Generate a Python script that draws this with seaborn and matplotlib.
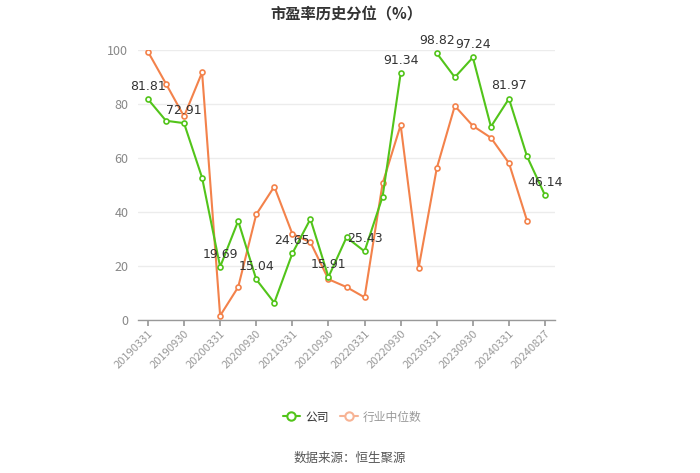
import numpy as np
import pandas as pd
import matplotlib
matplotlib.use("Agg")
import matplotlib.pyplot as plt
import seaborn as sns
from matplotlib.lines import Line2D

dates = ["20190331", "20190630", "20190930", "20191231", "20200331", "20200630",
         "20200930", "20201231", "20210331", "20210630", "20210930", "20211231",
         "20220331", "20220630", "20220930", "20221231", "20230331", "20230630",
         "20230930", "20231231", "20240331", "20240630", "20240827"]
company = [81.81, 73.8, 72.91, 52.7, 19.69, 36.7, 15.04, 6.4, 24.65, 37.4, 15.91, 30.6,
           25.43, 45.7, 91.34, np.nan, 98.82, 89.9, 97.24, 71.6, 81.97, 60.6, 46.14]
industry = [99.4, 87.5, 75.4, 91.7, 1.6, 12.2, 39.1, 49.4, 31.9, 28.8, 15.1, 12.2,
            8.4, 50.6, 72.2, 19.4, 56.2, 79.3, 71.9, 67.5, 58.1, 36.8, np.nan]
labeled = ["20190331", "20190930", "20200331", "20200930", "20210331", "20210930",
           "20220331", "20220930", "20230331", "20230930", "20240331", "20240827"]
annotated = [81.81, 72.91, 19.69, 15.04, 24.65, 15.91, 25.43, 91.34, 98.82, 97.24, 81.97, 46.14]

sns.set_theme(style="white")
plt.rcParams['font.family'] = ['Noto Sans CJK SC', 'DejaVu Sans']

GREEN = "#52c41a"
ORANGE = "#f3824b"

df = pd.DataFrame({"x": np.arange(len(dates)), "company": company, "industry": industry})
# segment ids so gaps stay gaps
df["cseg"] = df["company"].isna().cumsum()
df["iseg"] = df["industry"].isna().cumsum()

fig = plt.figure(figsize=(7, 4.73), dpi=100)
ax = fig.add_axes([138/700, 1-320/473, (555-138)/700, (320-50)/473])

mk = dict(marker="o", markersize=3.6, markerfacecolor="white", markeredgewidth=1.2)
d_i = df.dropna(subset=["industry"])
sns.lineplot(data=d_i, x="x", y="industry", units="iseg", estimator=None, color=ORANGE,
             linewidth=1.5, ax=ax, markeredgecolor=ORANGE, zorder=3, **mk)
d_c = df.dropna(subset=["company"])
sns.lineplot(data=d_c, x="x", y="company", units="cseg", estimator=None, color=GREEN,
             linewidth=1.5, ax=ax, markeredgecolor=GREEN, zorder=4, **mk)

for xi, v in zip(df["x"], df["company"]):
    if not np.isnan(v) and v in annotated:
        ax.annotate(f"{v:.2f}", (xi, v), xytext=(0, 4.5), textcoords="offset points",
                    ha="center", va="bottom", fontsize=9, color="#333333", zorder=5,
                    family="DejaVu Sans")

ax.set_xlim(-0.55, len(dates) - 0.45)
ax.set_ylim(0, 100)
ax.set_yticks([0, 20, 40, 60, 80, 100])
ax.set_yticklabels(["0", "20", "40", "60", "80", "100"], fontsize=9, color="#888888")
tick_pos = [dates.index(d) for d in labeled]
ax.set_xticks(tick_pos)
ax.set_xticklabels(labeled, rotation=45, ha="right", rotation_mode="anchor",
                   fontsize=8, color="#999999")
ax.set_xlabel("")
ax.set_ylabel("")
ax.grid(axis="y", color="#ececec", linewidth=1)
ax.set_axisbelow(True)
for s in ["top", "right", "left"]:
    ax.spines[s].set_visible(False)
ax.spines["bottom"].set_color("#999999")
ax.spines["bottom"].set_linewidth(1)
ax.tick_params(axis="x", length=4, color="#999999", direction="out", bottom=True, pad=2)
ax.tick_params(axis="y", length=0, pad=7)

fig.text(346/700, 1-14/473, "市盈率历史分位（%）", ha="center", va="center",
         fontsize=11, fontweight="bold", color="#333333")

handles = [Line2D([0], [0], color=GREEN, linewidth=1.5, marker="o", markersize=6,
                  markerfacecolor="white", markeredgecolor=GREEN, markeredgewidth=1.5),
           Line2D([0], [0], color="#f7b394", linewidth=1.5, marker="o", markersize=6,
                  markerfacecolor="white", markeredgecolor="#f7b394", markeredgewidth=1.5)]
leg = fig.legend(handles, ["公司", "行业中位数"], loc="center", bbox_to_anchor=(352/700, 1-417/473),
                 ncol=2, frameon=False, fontsize=8.5, handlelength=1.5, columnspacing=1.0,
                 handletextpad=0.4)
leg.get_texts()[0].set_color("#333333")
leg.get_texts()[1].set_color("#999999")

fig.text(350/700, 1-458/473, "数据来源：恒生聚源", ha="center", va="center",
         fontsize=9, color="#555555")

fig.savefig("out.png", dpi=100)
